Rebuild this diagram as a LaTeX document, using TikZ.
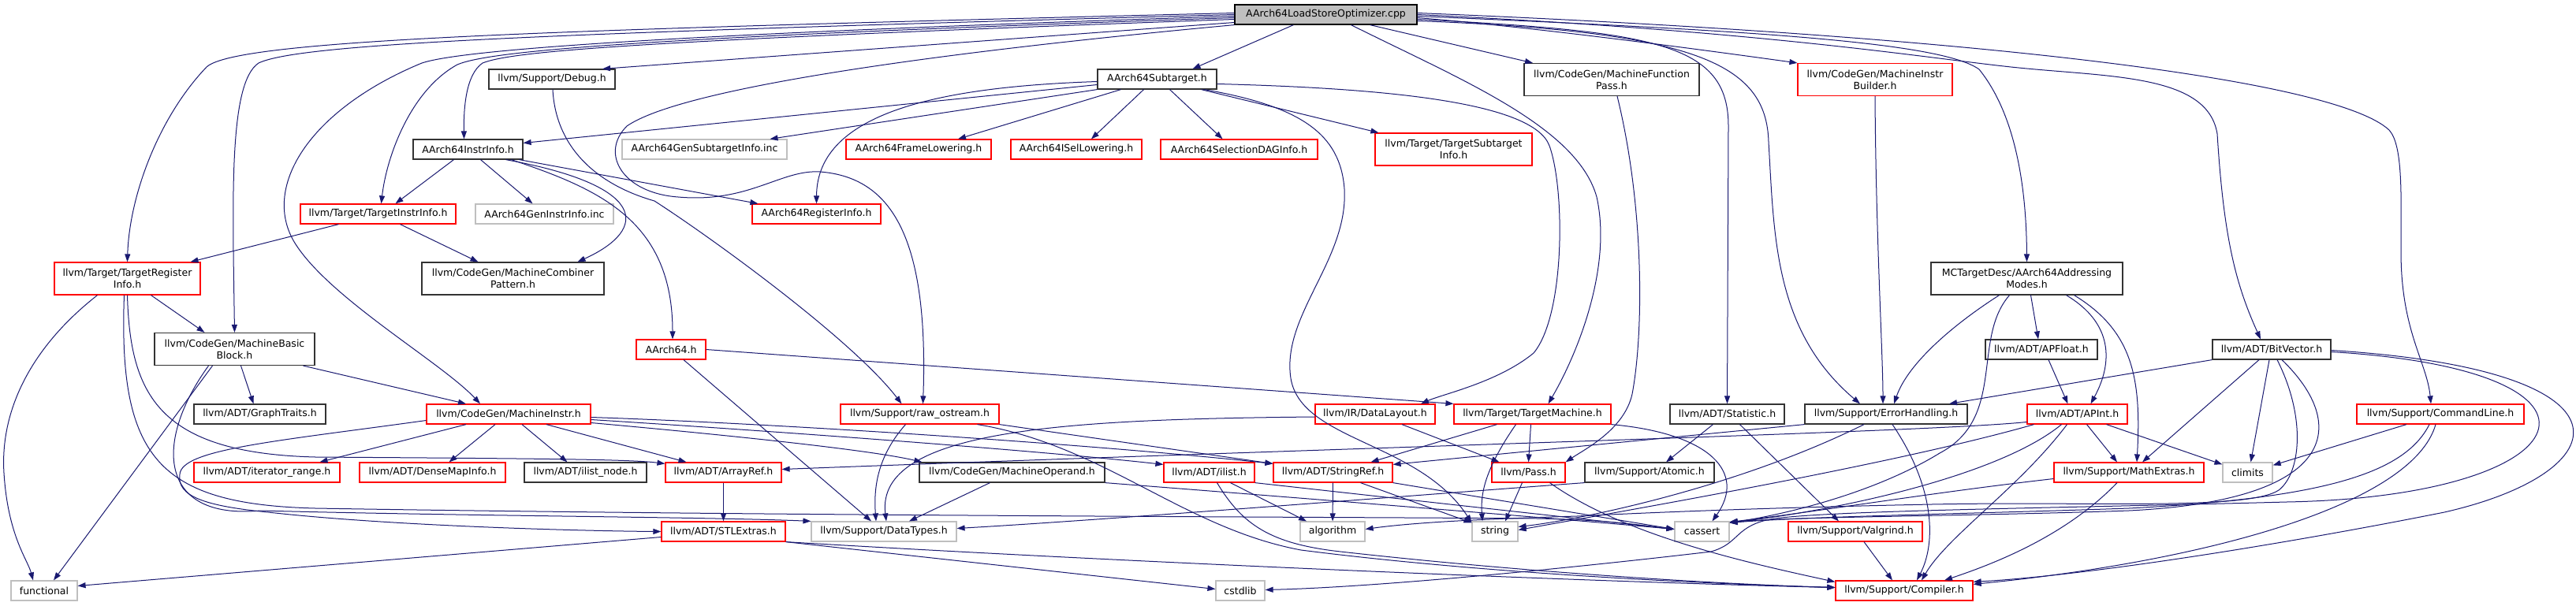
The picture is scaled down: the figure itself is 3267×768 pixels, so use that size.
\documentclass[tikz,border=0pt]{standalone}
\usepackage{fontspec}
\setmainfont{DejaVu Sans}
\usetikzlibrary{arrows.meta}
\definecolor{edgeblue}{HTML}{191970}
\definecolor{boxgrey}{HTML}{BFBFBF}

\begin{document}
\begin{tikzpicture}[
    x=1pt, y=-1pt,
    every node/.style={font=\fontsize{12.5}{15}\selectfont, inner sep=0pt, minimum height=25pt, align=center},
    root/.style={rectangle, draw=black, line width=1.2pt, fill=boxgrey},
    header/.style={rectangle, draw=black!80, line width=1.2pt, fill=white},
    truncated/.style={rectangle, draw=red, line width=1.2pt, fill=white},
    system/.style={rectangle, draw=boxgrey, line width=1.2pt, fill=white},
    twoline/.style={minimum height=41pt},
    arrow/.style={draw=edgeblue, line width=1pt, -{Triangle[length=10pt,width=7pt]}}
]
\useasboundingbox (0,0) rectangle (3267,768);

% Source file
\node (main) [root, minimum width=231pt] at (1681.5,18.5) {AArch64LoadStoreOptimizer.cpp};

% Row 1
\node (debug) [header, minimum width=160pt] at (700,100.5) {llvm/Support/Debug.h};
\node (subtarget) [header, minimum width=151pt] at (1467.5,100.5) {AArch64Subtarget.h};
\node (mfpass) [header, twoline, minimum width=222pt] at (2044,101) {llvm/CodeGen/MachineFunction\\Pass.h};
\node (mibuilder) [truncated, twoline, minimum width=196pt] at (2378,101) {llvm/CodeGen/MachineInstr\\Builder.h};

% Row 2
\node (instrinfo) [header, minimum width=139pt] at (593.5,189.5) {AArch64InstrInfo.h};
\node (gensubtarget) [system, minimum width=209pt] at (893.5,189.5) {AArch64GenSubtargetInfo.inc};
\node (framelow) [truncated, minimum width=184pt] at (1165,189.5) {AArch64FrameLowering.h};
\node (isellow) [truncated, minimum width=166pt] at (1365,189.5) {AArch64ISelLowering.h};
\node (seldag) [truncated, minimum width=199pt] at (1571.5,189.5) {AArch64SelectionDAGInfo.h};
\node (tsubinfo) [truncated, twoline, minimum width=199pt] at (1843.5,189.5) {llvm/Target/TargetSubtarget\\Info.h};

% Row 3
\node (tinstrinfo) [truncated, minimum width=197pt] at (479.5,271.5) {llvm/Target/TargetInstrInfo.h};
\node (geninstr) [system, minimum width=175pt] at (690.5,271.5) {AArch64GenInstrInfo.inc};
\node (reginfo) [truncated, minimum width=163pt] at (1035.5,271.5) {AArch64RegisterInfo.h};

% Row 4
\node (treginfo) [truncated, twoline, minimum width=185pt] at (161.5,353.5) {llvm/Target/TargetRegister\\Info.h};
\node (combiner) [header, twoline, minimum width=231pt] at (650.5,353.5) {llvm/CodeGen/MachineCombiner\\Pattern.h};
\node (addrmodes) [header, twoline, minimum width=243pt] at (2570.5,353.5) {MCTargetDesc/AArch64Addressing\\Modes.h};

% Row 5
\node (mbb) [header, twoline, minimum width=203pt] at (297.5,443) {llvm/CodeGen/MachineBasic\\Block.h};
\node (aarch64) [truncated, minimum width=88pt] at (851,443.5) {AArch64.h};
\node (apfloat) [header, minimum width=142pt] at (2589,443.5) {llvm/ADT/APFloat.h};
\node (bitvector) [header, minimum width=150pt] at (2881,443.5) {llvm/ADT/BitVector.h};

% Row 6
\node (graphtraits) [header, minimum width=167pt] at (329.5,525.5) {llvm/ADT/GraphTraits.h};
\node (minstr) [truncated, minimum width=208pt] at (645,525.5) {llvm/CodeGen/MachineInstr.h};
\node (rawostream) [truncated, minimum width=201pt] at (1166.5,525.5) {llvm/Support/raw\_ostream.h};
\node (datalayout) [truncated, minimum width=152pt] at (1744,525.5) {llvm/IR/DataLayout.h};
\node (tmachine) [truncated, minimum width=199pt] at (1943.5,525.5) {llvm/Target/TargetMachine.h};
\node (statistic) [header, minimum width=145pt] at (2190.5,525.5) {llvm/ADT/Statistic.h};
\node (errhandling) [header, minimum width=206pt] at (2392,525.5) {llvm/Support/ErrorHandling.h};
\node (apint) [truncated, minimum width=127pt] at (2634.5,525.5) {llvm/ADT/APInt.h};
\node (cmdline) [truncated, minimum width=212pt] at (3095,525.5) {llvm/Support/CommandLine.h};

% Row 7
\node (iterrange) [truncated, minimum width=185pt] at (338.5,599.5) {llvm/ADT/iterator\_range.h};
\node (densemap) [truncated, minimum width=185pt] at (548.5,599.5) {llvm/ADT/DenseMapInfo.h};
\node (ilistnode) [header, minimum width=155pt] at (742.5,599.5) {llvm/ADT/ilist\_node.h};
\node (arrayref) [truncated, minimum width=147pt] at (917.5,599.5) {llvm/ADT/ArrayRef.h};
\node (moperand) [header, minimum width=235pt] at (1283.5,599.5) {llvm/CodeGen/MachineOperand.h};
\node (ilist) [truncated, minimum width=115pt] at (1533.5,599.5) {llvm/ADT/ilist.h};
\node (stringref) [truncated, minimum width=151pt] at (1690.5,599.5) {llvm/ADT/StringRef.h};
\node (pass) [truncated, minimum width=93pt] at (1938.5,599.5) {llvm/Pass.h};
\node (atomic) [header, minimum width=164pt] at (2092,599.5) {llvm/Support/Atomic.h};
\node (mathextras) [truncated, minimum width=190pt] at (2700,599.5) {llvm/Support/MathExtras.h};
\node (climits) [system, minimum width=63pt] at (2850.5,599.5) {climits};

% Row 8
\node (stlextras) [truncated, minimum width=157pt] at (917.5,674.5) {llvm/ADT/STLExtras.h};
\node (datatypes) [system, minimum width=184pt] at (1121,674.5) {llvm/Support/DataTypes.h};
\node (algorithm) [system, minimum width=82pt] at (1690,674.5) {algorithm};
\node (stdstring) [system, minimum width=58pt] at (1896,674.5) {string};
\node (cassert) [system, minimum width=69pt] at (2158.5,674.5) {cassert};
\node (valgrind) [truncated, minimum width=170pt] at (2353,674.5) {llvm/Support/Valgrind.h};

% Bottom row
\node (functional) [system, minimum width=84pt] at (56,749.5) {functional};
\node (cstdlib) [system, minimum width=62pt] at (1573,749.5) {cstdlib};
\node (compiler) [truncated, minimum width=174pt] at (2415,749.5) {llvm/Support/Compiler.h};

% Includes of the source file
\draw [arrow] ([yshift=2pt]main.west) .. controls (700,38) and (300,50) .. (262,85) .. controls (200,150) and (164,250) .. (treginfo.north);
\draw [arrow] (main.west) .. controls (700,42) and (380,55) .. (328,80) .. controls (290,105) and (295,250) .. (mbb.north);
\draw [arrow] ([yshift=-2pt]main.west) .. controls (800,45) and (580,65) .. (535,80) .. controls (390,140) and (330,240) .. (375,310) .. controls (420,380) and (560,460) .. ([xshift=-36pt]minstr.north);
\draw [arrow] ([yshift=-4pt]main.west) .. controls (800,48) and (620,65) .. (580,82) .. controls (520,115) and (490,200) .. ([xshift=4pt]tinstrinfo.north);
\draw [arrow] ([yshift=-6pt]main.west) .. controls (800,52) and (650,65) .. (612,80) .. controls (590,95) and (588,140) .. ([xshift=-5pt]instrinfo.north);
\draw [arrow] ([yshift=-10pt]main.west) -- ([xshift=64pt]debug.north);
\draw [arrow] (main.south west) .. controls (1150,70) and (860,115) .. (795,160) .. controls (760,195) and (790,245) .. (860,250) .. controls (950,258) and (990,215) .. (1040,218) .. controls (1130,225) and (1178,300) .. ([xshift=4pt]rawostream.north);
\draw [arrow] ([xshift=-41pt]main.south) -- ([xshift=45pt]subtarget.north);
\draw [arrow] ([xshift=56pt]main.south) -- ([xshift=-100pt]mfpass.north);
\draw [arrow] ([yshift=-4pt]main.east) .. controls (1950,35) and (2150,62) .. (mibuilder.north west);
\draw [arrow] ([yshift=-6pt]main.east) .. controls (2100,40) and (2192,55) .. (2192,160) -- (statistic.north);
\draw [arrow] ([yshift=-8pt]main.east) .. controls (2150,40) and (2240,80) .. (2243,180) .. controls (2250,300) and (2250,420) .. ([xshift=-33pt]errhandling.north);
\draw [arrow] ([xshift=32pt]main.south) .. controls (1850,100) and (2000,160) .. (2025,250) .. controls (2045,340) and (2000,450) .. ([xshift=20pt]tmachine.north);
\draw [arrow] ([yshift=-2pt]main.east) .. controls (2200,38) and (2460,52) .. (2510,88) .. controls (2560,150) and (2570,250) .. (addrmodes.north);
\draw [arrow] (main.east) .. controls (2250,40) and (2450,75) .. (2560,86) .. controls (2680,98) and (2800,95) .. (2812,170) .. controls (2820,300) and (2835,360) .. ([xshift=-14pt]bitvector.north);
\draw [arrow] ([yshift=2pt]main.east) .. controls (2500,45) and (2960,100) .. (3030,165) .. controls (3048,185) and (3045,250) .. (3045,320) .. controls (3045,420) and (3078,460) .. ([xshift=-12pt]cmdline.north);

% AArch64Subtarget.h
\draw [arrow] ([yshift=-7pt]subtarget.west) -- ([yshift=8pt]instrinfo.east);
\draw [arrow] ([yshift=-3pt]subtarget.west) .. controls (1200,110) and (1036,140) .. (reginfo.north);
\draw [arrow] (subtarget.south west) -- ([xshift=83pt]gensubtarget.north);
\draw [arrow] ([xshift=-46pt]subtarget.south) -- ([xshift=50pt]framelow.north);
\draw [arrow] ([xshift=-17pt]subtarget.south) -- ([xshift=19pt]isellow.north);
\draw [arrow] ([xshift=16pt]subtarget.south) -- ([xshift=-21pt]seldag.north);
\draw [arrow] ([xshift=56pt]subtarget.south) -- ([xshift=5pt]tsubinfo.north west);
\draw [arrow] ([yshift=-6pt]subtarget.east) .. controls (1760,112) and (1945,130) .. (1965,185) .. controls (1985,240) and (1985,400) .. (1945,448) .. controls (1900,485) and (1830,500) .. ([xshift=58pt]datalayout.north);
\draw [arrow] ([xshift=60pt]subtarget.south) .. controls (1650,135) and (1700,170) .. (1705,240) .. controls (1710,330) and (1625,400) .. (1637,480) .. controls (1650,560) and (1800,560) .. ([yshift=-2pt]stdstring.north west);

% AArch64InstrInfo.h and Debug.h
\draw [arrow] ([xshift=-18pt]instrinfo.south) -- ([xshift=22pt]tinstrinfo.north);
\draw [arrow] ([xshift=16pt]instrinfo.south) -- ([xshift=-15pt]geninstr.north);
\draw [arrow] ([xshift=48pt]instrinfo.south) .. controls (820,235) and (825,290) .. ([xshift=82pt]combiner.north);
\draw [arrow] ([xshift=65pt]instrinfo.south) -- ([xshift=8pt]reginfo.north west);
\draw [arrow] ([xshift=55pt]instrinfo.south) .. controls (760,240) and (853,280) .. ([xshift=2pt]aarch64.north);
\draw [arrow] ([xshift=1pt]debug.south) .. controls (705,190) and (760,235) .. (830,255) .. controls (900,300) and (1080,430) .. ([xshift=-23pt]rawostream.north);

% Target headers
\draw [arrow] ([xshift=-50pt]tinstrinfo.south) -- ([xshift=80pt]treginfo.north);
\draw [arrow] ([xshift=28pt]tinstrinfo.south) -- ([xshift=-44pt]combiner.north);
\draw [arrow] ([xshift=-38pt]treginfo.south) .. controls (40,440) and (0,520) .. (5,600) .. controls (10,680) and (35,710) .. ([xshift=-14pt]functional.north);
\draw [arrow] ([xshift=30pt]treginfo.south) -- ([xshift=-38pt]mbb.north);
\draw [arrow] (treginfo.south) .. controls (165,500) and (200,575) .. (400,580) .. controls (700,582) and (800,583) .. ([yshift=-2pt]arrayref.north west);
\draw [arrow] ([xshift=-4pt]treginfo.south) .. controls (150,580) and (200,640) .. (400,645) .. controls (1000,655) and (1700,656) .. (1950,658) .. controls (2050,660) and (2090,668) .. ([yshift=3pt]cassert.west);

% MachineBasicBlock.h and MachineInstr.h
\draw [arrow] ([xshift=-28pt]mbb.south) -- ([xshift=12pt]functional.north);
\draw [arrow] ([xshift=8pt]mbb.south) -- ([xshift=-8pt]graphtraits.north);
\draw [arrow] ([xshift=87pt]mbb.south) -- ([xshift=-54pt]minstr.north);
\draw [arrow] ([xshift=-33pt]mbb.south) .. controls (195,560) and (200,660) .. (330,648) .. controls (600,655) and (900,656) .. (datatypes.north west);
\draw [arrow] ([xshift=-54pt]minstr.south) -- ([xshift=67pt]iterrange.north);
\draw [arrow] ([xshift=-17pt]minstr.south) -- ([xshift=21pt]densemap.north);
\draw [arrow] ([xshift=17pt]minstr.south) -- ([xshift=-23pt]ilistnode.north);
\draw [arrow] ([xshift=48pt]minstr.south) -- ([xshift=-47pt]arrayref.north);
\draw [arrow] ([yshift=-11pt]minstr.east) .. controls (900,550) and (1100,570) .. ([xshift=4pt]moperand.north west);
\draw [arrow] ([yshift=-7pt]minstr.east) .. controls (950,545) and (1300,570) .. ([yshift=-3pt]ilist.north west);
\draw [arrow] ([yshift=-4pt]minstr.east) .. controls (1000,538) and (1400,565) .. ([yshift=-2pt]stringref.north west);
\draw [arrow] ([yshift=-8pt]minstr.west) .. controls (350,560) and (230,570) .. (228,602) .. controls (224,630) and (260,642) .. (340,650) .. controls (500,668) and (750,674) .. (stlextras.west);

% AArch64.h and raw_ostream.h
\draw [arrow] (aarch64.east) -- (tmachine.north west);
\draw [arrow] ([xshift=16pt]aarch64.south) -- ([xshift=-16pt]datatypes.north);
\draw [arrow] ([xshift=-18pt]rawostream.south) .. controls (1112,580) and (1108,620) .. ([xshift=-10pt]datatypes.north);
\draw [arrow] (rawostream.south east) -- ([yshift=-2pt]stringref.north west);
\draw [arrow] ([xshift=73pt]rawostream.south) .. controls (1400,565) and (1500,670) .. (1650,698) .. controls (1900,730) and (2200,742) .. ([yshift=4pt]compiler.west);

% ADT headers
\draw [arrow] (arrayref) -- (stlextras);
\draw [arrow] ([xshift=-28pt]moperand.south) -- ([xshift=32pt]datatypes.north);
\draw [arrow] (moperand.south east) .. controls (1650,632) and (2000,660) .. ([yshift=3pt]cassert.west);
\draw [arrow] ([xshift=27pt]ilist.south) -- ([xshift=-33pt]algorithm.north);
\draw [arrow] (ilist.south east) -- ([yshift=3pt]cassert.west);
\draw [arrow] ([xshift=10pt]ilist.south) .. controls (1575,665) and (1610,690) .. (1700,700) .. controls (1950,728) and (2200,742) .. ([yshift=4pt]compiler.west);
\draw [arrow] ([yshift=-7pt]stlextras.west) -- ([yshift=6pt]functional.east);
\draw [arrow] (stlextras.south east) -- ([yshift=2pt]cstdlib.west);
\draw [arrow] (stlextras.south east) .. controls (1400,712) and (2000,738) .. ([yshift=4pt]compiler.west);
\draw [arrow] (stringref) -- (algorithm);
\draw [arrow] ([xshift=35pt]stringref.south) -- ([yshift=-2pt]stdstring.north west);
\draw [arrow] (stringref.south east) -- ([yshift=3pt]cassert.west);

% DataLayout.h, TargetMachine.h and Pass.h
\draw [arrow] ([xshift=34pt]datalayout.south) -- ([xshift=-37pt]pass.north);
\draw [arrow] ([yshift=-3.5pt]datalayout.west) .. controls (1350,532) and (1110,545) .. ([xshift=3pt]datatypes.north);
\draw [arrow] ([xshift=-45pt]tmachine.south) -- ([xshift=48pt]stringref.north);
\draw [arrow] ([xshift=-2pt]tmachine.south) -- (pass.north);
\draw [arrow] ([xshift=-21pt]tmachine.south) .. controls (1880,600) and (1878,630) .. ([xshift=-16pt]stdstring.north);
\draw [arrow] (tmachine.south east) .. controls (2170,550) and (2215,600) .. ([xshift=13pt]cassert.north);
\draw [arrow] ([xshift=-8pt]pass.south) -- ([xshift=13pt]stdstring.north);
\draw [arrow] ([xshift=27pt]pass.south) .. controls (2060,680) and (2220,715) .. ([yshift=-2pt]compiler.north west);
\draw [arrow] ([xshift=7pt]mfpass.south) .. controls (2085,260) and (2085,420) .. (2070,500) .. controls (2060,545) and (2010,570) .. (pass.north east);

% Support headers
\draw [arrow] ([xshift=-18pt]statistic.south) -- ([xshift=21pt]atomic.north);
\draw [arrow] ([xshift=16pt]statistic.south) -- ([xshift=-21pt]valgrind.north);
\draw [arrow] (atomic.south west) .. controls (1800,628) and (1400,660) .. ([yshift=4pt]datatypes.east);
\draw [arrow] ([xshift=11pt]valgrind.south) -- ([xshift=-15pt]compiler.north);
\draw [arrow] (mibuilder.south) .. controls (2379,300) and (2388,450) .. ([xshift=-4pt]errhandling.north);
\draw [arrow] (errhandling.south west) -- ([yshift=-3pt]stringref.north east);
\draw [arrow] ([xshift=-28pt]errhandling.south) .. controls (2200,620) and (2000,660) .. ([yshift=6pt]stdstring.east);
\draw [arrow] ([xshift=8pt]errhandling.south) .. controls (2455,620) and (2455,690) .. ([xshift=16pt]compiler.north);

% AArch64AddressingModes.h
\draw [arrow] ([xshift=-35pt]addrmodes.south) .. controls (2480,410) and (2420,460) .. ([xshift=10pt]errhandling.north);
\draw [arrow] ([xshift=-22pt]addrmodes.south) .. controls (2500,430) and (2545,530) .. (2460,575) .. controls (2370,630) and (2250,655) .. ([yshift=-2pt]cassert.north east);
\draw [arrow] ([xshift=5pt]addrmodes.south) -- ([xshift=-4pt]apfloat.north);
\draw [arrow] ([xshift=50pt]addrmodes.south) .. controls (2680,410) and (2680,460) .. ([xshift=17pt]apint.north);
\draw [arrow] ([xshift=60pt]addrmodes.south) .. controls (2705,420) and (2716,480) .. ([xshift=10pt]mathextras.north);
\draw [arrow] ([xshift=9pt]apfloat.south) -- ([xshift=-12pt]apint.north);

% APInt.h
\draw [arrow] ([yshift=-10pt]apint.west) .. controls (2450,548) and (1800,565) .. ([yshift=4pt]arrayref.east);
\draw [arrow] ([xshift=-55pt]apint.south) .. controls (2400,590) and (2050,650) .. ([yshift=2pt]stdstring.east);
\draw [arrow] ([xshift=12pt]apint.south) -- ([xshift=-15pt]mathextras.north);
\draw [arrow] ([xshift=37pt]apint.south) -- ([yshift=-3pt]climits.north west);
\draw [arrow] ([xshift=-20pt]apint.south) .. controls (2540,600) and (2350,645) .. ([yshift=-2pt]cassert.north east);
\draw [arrow] ([xshift=-13pt]apint.south) .. controls (2560,620) and (2470,680) .. ([xshift=22pt]compiler.north);

% BitVector.h
\draw [arrow] (bitvector.south west) -- ([xshift=80pt]errhandling.north);
\draw [arrow] ([xshift=-16pt]bitvector.south) -- ([xshift=17pt]mathextras.north);
\draw [arrow] ([xshift=-3pt]bitvector.south) -- ([xshift=4pt]climits.north);
\draw [arrow] ([xshift=7pt]bitvector.south) .. controls (2925,530) and (2918,600) .. (2890,622) .. controls (2850,648) and (2650,636) .. (2450,640) .. controls (2250,644) and (2100,650) .. (2000,655) .. controls (1900,658) and (1800,662) .. ([yshift=3pt]algorithm.east);
\draw [arrow] ([xshift=13pt]bitvector.south) .. controls (2980,540) and (2965,635) .. (2700,648) .. controls (2500,655) and (2300,655) .. ([yshift=-1pt]cassert.north east);
\draw [arrow] ([yshift=-3pt]bitvector.east) .. controls (3350,470) and (3280,630) .. (2900,637) .. controls (2600,645) and (2290,648) .. (2240,660) .. controls (2200,670) and (2205,690) .. (2170,700) .. controls (2000,720) and (1750,745) .. ([yshift=1pt]cstdlib.east);
\draw [arrow] ([yshift=-1pt]bitvector.east) .. controls (3360,470) and (3320,600) .. (3100,650) .. controls (2900,690) and (2650,730) .. ([yshift=-2pt]compiler.north east);

% CommandLine.h and MathExtras.h
\draw [arrow] ([xshift=-43pt]cmdline.south) -- ([yshift=-4pt]climits.north east);
\draw [arrow] ([xshift=-14pt]cmdline.south) .. controls (3050,600) and (2950,632) .. (2700,645) .. controls (2500,652) and (2300,655) .. ([yshift=-2pt]cassert.north east);
\draw [arrow] ([xshift=-6pt]cmdline.south) .. controls (3060,640) and (2800,712) .. ([yshift=-5pt]compiler.north east);
\draw [arrow] ([yshift=-8pt]mathextras.west) .. controls (2450,625) and (2300,650) .. ([yshift=-1pt]cassert.north east);
\draw [arrow] ([xshift=-15pt]mathextras.south) .. controls (2620,680) and (2530,715) .. ([xshift=51pt]compiler.north);

\end{tikzpicture}
\end{document}
